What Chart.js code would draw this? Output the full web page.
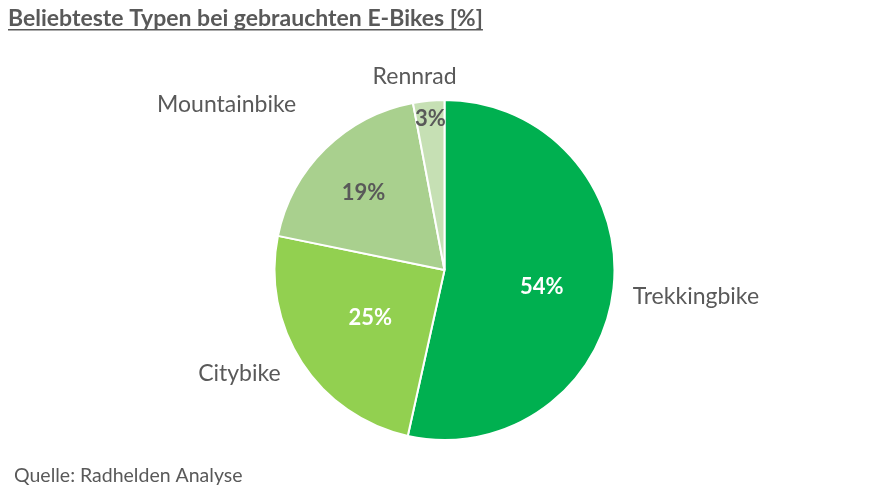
<!DOCTYPE html>
<html>
<head>
<meta charset="utf-8">
<script src="https://cdn.jsdelivr.net/npm/chart.js@4"></script>
<style>
  html, body { margin: 0; padding: 0; background: #fff; }
  #wrap { width: 889px; height: 493px; position: relative; }
</style>
</head>
<body>
<div id="wrap"><canvas id="pieChart"></canvas></div>
<script>
var categories = ["Trekkingbike", "Citybike", "Mountainbike", "Rennrad"];
var shares = [54, 25, 19, 3];
var sliceColors = ["#00B050", "#92D050", "#A9D08E", "#C6E0B4"];
var chartTitle = "Beliebteste Typen bei gebrauchten E-Bikes [%]";
var sourceNote = "Quelle: Radhelden Analyse";

var FONT = "Lato, 'Open Sans', sans-serif";
var GRAY = "#595959";

// inner label distance (fraction of radius) and outer label distance (px beyond radius)
var innerFrac = [0.58, 0.52, 0.66, 0.89];
var innerAngleShift = [0.06, 0, -0.03, 0];
var outerGap = [20, 24, 52, 26];
var outerAngleShift = [0.03, 0.01, 0.046, -0.06];
var innerColor = ["#fff", "#fff", GRAY, GRAY];

var labelPlugin = {
    id: "labels",
    afterDraw: function (chart) {
        var ctx = chart.ctx;
        var meta = chart.getDatasetMeta(0);
        ctx.save();
        ctx.textBaseline = "middle";
        meta.data.forEach(function (arc, i) {
            var mid = (arc.startAngle + arc.endAngle) / 2;
            var r = arc.outerRadius;
            var b = mid + innerAngleShift[i];
            var ix = arc.x + Math.cos(b) * r * innerFrac[i];
            var iy = arc.y + Math.sin(b) * r * innerFrac[i];
            ctx.font = "bold 22px " + FONT;
            ctx.fillStyle = innerColor[i];
            ctx.textAlign = "center";
            ctx.fillText(shares[i] + "%", ix, iy);

            var a = mid + outerAngleShift[i];
            var ox = arc.x + Math.cos(a) * (r + outerGap[i]);
            var oy = arc.y + Math.sin(a) * (r + outerGap[i]);
            var c = Math.cos(a);
            ctx.font = "23px " + FONT;
            ctx.fillStyle = GRAY;
            ctx.textAlign = Math.abs(c) < 0.2 ? "center" : (c > 0 ? "left" : "right");
            ctx.fillText(categories[i], ox, oy);
        });

        // title with underline
        ctx.textAlign = "left";
        ctx.textBaseline = "alphabetic";
        ctx.font = "bold 23px " + FONT;
        ctx.fillStyle = GRAY;
        ctx.fillText(chartTitle, 8, 26);
        var w = ctx.measureText(chartTitle).width;
        ctx.fillRect(8, 29, w, 1.5);

        ctx.font = "19.5px " + FONT;
        ctx.fillText(sourceNote, 14, 482);
        ctx.restore();
    }
};

new Chart(document.getElementById("pieChart").getContext("2d"), {
    type: "pie",
    data: {
        labels: categories,
        datasets: [{
            data: shares,
            backgroundColor: sliceColors,
            borderColor: "#fff",
            borderWidth: 2
        }]
    },
    options: {
        responsive: true,
        maintainAspectRatio: false,
        animation: false,
        layout: { padding: { top: 99, bottom: 52, left: 0, right: 0 } },
        plugins: {
            legend: { display: false },
            tooltip: { enabled: false }
        }
    },
    plugins: [labelPlugin]
});
</script>
</body>
</html>
